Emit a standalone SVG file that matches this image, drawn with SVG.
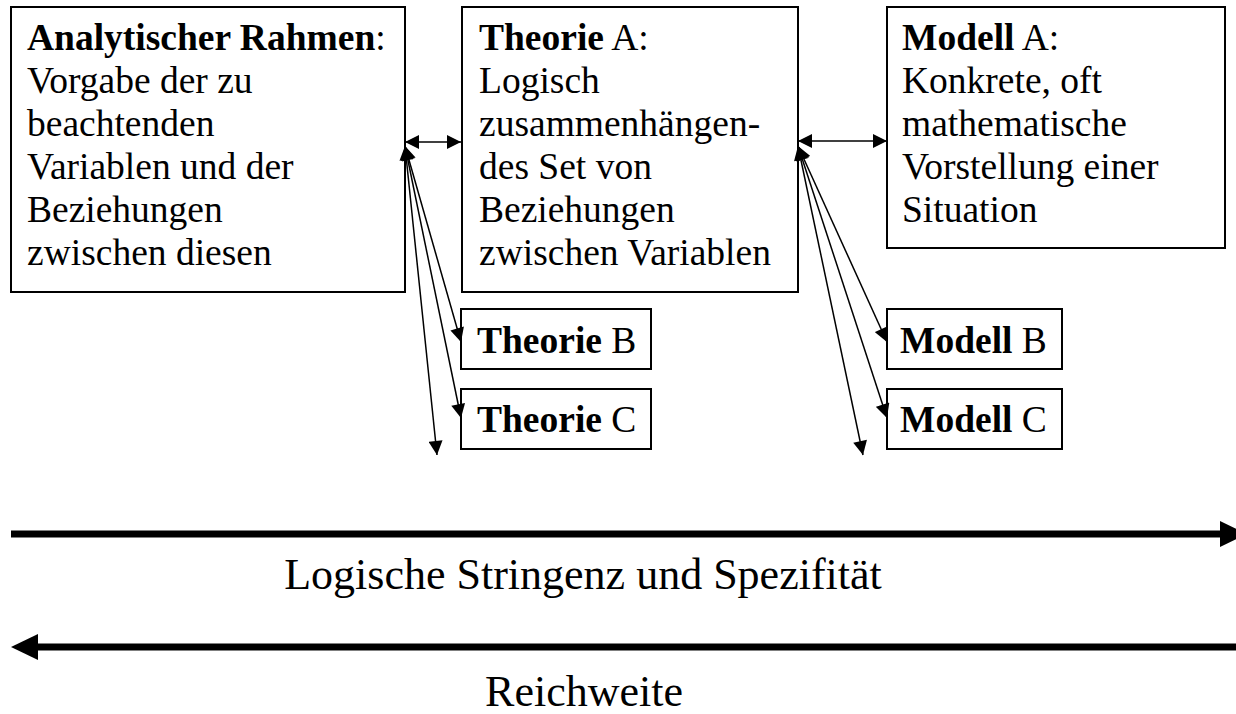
<svg xmlns="http://www.w3.org/2000/svg" width="1236" height="714" viewBox="0 0 1236 714">
<style>
  text { font-family: "Liberation Serif", "Times New Roman", serif; fill: #000; }
  .t { font-size: 37.5px; }
  .b { font-weight: bold; }
  .box { fill: #fff; stroke: #000; stroke-width: 2; }
  .c { stroke: #000; stroke-width: 1.5; fill: none; marker-start: url(#ah); marker-end: url(#ah); }
  .big { stroke: #000; stroke-width: 7; fill: none; }
  .lbl { font-size: 44px; }
</style>
<defs>
  <marker id="ah" viewBox="0 0 10 10" refX="10" refY="5" markerUnits="userSpaceOnUse" markerWidth="15" markerHeight="14" orient="auto-start-reverse">
    <path d="M0,0 L10,5 L0,10 z" fill="#000"/>
  </marker>
</defs>
<rect width="1236" height="714" fill="#fff"/>

<g id="rahmen">
  <rect class="box" x="11" y="7" width="394" height="285"/>
  <text class="t" x="27" y="50"><tspan class="b">Analytischer Rahmen</tspan>:</text>
  <text class="t" x="27" y="93">Vorgabe der zu</text>
  <text class="t" x="27" y="136">beachtenden</text>
  <text class="t" x="27" y="179">Variablen und der</text>
  <text class="t" x="27" y="222">Beziehungen</text>
  <text class="t" x="27" y="265">zwischen diesen</text>
</g>

<g id="theorieA">
  <rect class="box" x="462" y="7" width="336" height="285"/>
  <text class="t" x="479" y="50"><tspan class="b">Theorie</tspan> A:</text>
  <text class="t" x="479" y="93">Logisch</text>
  <text class="t" x="479" y="136">zusammenhängen-</text>
  <text class="t" x="479" y="179">des Set von</text>
  <text class="t" x="479" y="222">Beziehungen</text>
  <text class="t" x="479" y="265">zwischen Variablen</text>
</g>

<g id="modellA">
  <rect class="box" x="887" y="7" width="338" height="241"/>
  <text class="t" x="902" y="50"><tspan class="b">Modell</tspan> A:</text>
  <text class="t" x="902" y="93">Konkrete, oft</text>
  <text class="t" x="902" y="136">mathematische</text>
  <text class="t" x="902" y="179">Vorstellung einer</text>
  <text class="t" x="902" y="222">Situation</text>
</g>

<g id="theorieB">
  <rect class="box" x="461" y="309" width="190" height="60"/>
  <text class="t" x="477" y="353"><tspan class="b">Theorie</tspan> B</text>
</g>
<g id="theorieC">
  <rect class="box" x="461" y="389" width="190" height="60"/>
  <text class="t" x="477" y="432"><tspan class="b">Theorie</tspan> C</text>
</g>
<g id="modellB">
  <rect class="box" x="887" y="309" width="175" height="60"/>
  <text class="t" x="900" y="353"><tspan class="b">Modell</tspan> B</text>
</g>
<g id="modellC">
  <rect class="box" x="887" y="389" width="175" height="60"/>
  <text class="t" x="900" y="432"><tspan class="b">Modell</tspan> C</text>
</g>

<g id="connectors">
  <line class="c" x1="405" y1="142" x2="461" y2="142"/>
  <line class="c" x1="798" y1="141" x2="887" y2="141"/>
  <line class="c" x1="405" y1="146" x2="461" y2="342"/>
  <line class="c" x1="405" y1="146" x2="461" y2="418"/>
  <line class="c" x1="405" y1="146" x2="437" y2="455"/>
  <line class="c" x1="798" y1="146" x2="887" y2="342"/>
  <line class="c" x1="798" y1="146" x2="887" y2="418"/>
  <line class="c" x1="798" y1="146" x2="863" y2="455"/>
  <line class="big" x1="11" y1="534" x2="1222" y2="534"/>
  <path d="M1220,521 L1247,534 L1220,547 z" fill="#000"/>
  <line class="big" x1="36" y1="647" x2="1236" y2="647"/>
  <path d="M38,634 L11,647 L38,660 z" fill="#000"/>
</g>

<g id="labels">
  <text class="lbl" x="583" y="589" text-anchor="middle">Logische Stringenz und Spezifität</text>
  <text class="lbl" x="584" y="706" text-anchor="middle">Reichweite</text>
</g>
</svg>
